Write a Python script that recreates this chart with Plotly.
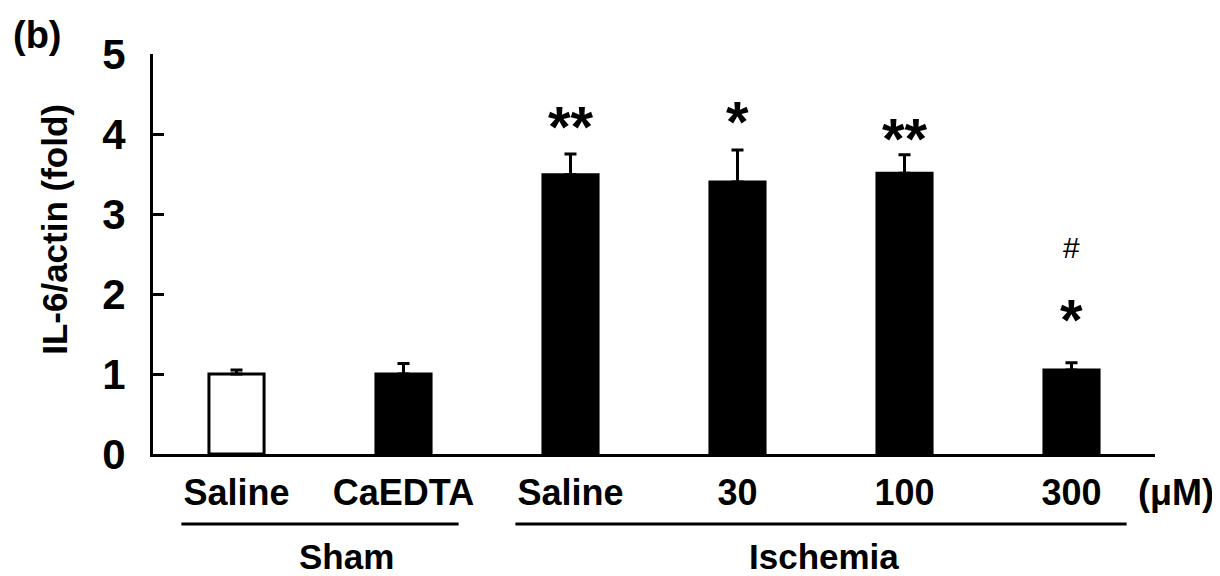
import plotly.graph_objects as go

# ---- data ----
categories = ["Saline", "CaEDTA", "Saline", "30", "100", "300"]
means = [1.00, 1.00, 3.49, 3.40, 3.51, 1.05]
sems = [0.05, 0.13, 0.26, 0.40, 0.23, 0.09]
fill_colors = ["white", "black", "black", "black", "black", "black"]
sig_marks = ["", "", "**", "*", "**", "*"]
sig_y = [None, None, 4.09, 4.16, 3.94, 1.68]
hash_marks = ["", "", "", "", "", "#"]
hash_y = [None, None, None, None, None, 2.58]
groups = ["Sham", "Ischemia"]
group_members = [[0, 1], [2, 3, 4, 5]]
y_ticks = [0, 1, 2, 3, 4, 5]
unit_label = "(\u03bcM)"
panel_label = "(b)"
y_title = "IL-6/actin (fold)"

FONT = "Liberation Sans, Arial, sans-serif"
x_pos = list(range(len(categories)))

fig = go.Figure()
fig.add_trace(go.Bar(
    x=x_pos, y=means, width=0.33,
    marker=dict(color=fill_colors, line=dict(color="black", width=3)),
    error_y=dict(type="data", array=sems, arrayminus=[0] * len(sems),
                 symmetric=False, color="black", thickness=3, width=6),
    showlegend=False, hoverinfo="skip",
))

annotations = []
for i, (m, yy) in enumerate(zip(sig_marks, sig_y)):
    if m:
        annotations.append(dict(x=i, y=yy, xref="x", yref="y", text=m, showarrow=False,
                                font=dict(family=FONT, size=58, color="black", weight="bold"),
                                xanchor="center", yanchor="middle"))
for i, (m, yy) in enumerate(zip(hash_marks, hash_y)):
    if m:
        annotations.append(dict(x=i, y=yy, xref="x", yref="y", text=m, showarrow=False,
                                font=dict(family=FONT, size=30, color="black"),
                                xanchor="center", yanchor="middle"))

# group labels and bracket lines
group_label_x = [0.66, 3.52]
shapes = []
for g, members, gx in zip(groups, group_members, group_label_x):
    shapes.append(dict(type="line", xref="x", yref="paper",
                       x0=min(members) - 0.33, x1=max(members) + 0.33,
                       y0=-0.175, y1=-0.175, line=dict(color="black", width=3)))
    annotations.append(dict(x=gx, y=-0.255, xref="x", yref="paper", text=g, showarrow=False,
                            font=dict(family=FONT, size=35, color="black", weight="bold"),
                            xanchor="center", yanchor="middle"))

annotations.append(dict(x=1.021, y=-0.095, xref="paper", yref="paper", text=unit_label,
                        showarrow=False, xanchor="center", yanchor="middle",
                        font=dict(family=FONT, size=36, color="black", weight="bold")))
annotations.append(dict(x=-0.115, y=1.048, xref="paper", yref="paper", text=panel_label,
                        showarrow=False, xanchor="center", yanchor="middle",
                        font=dict(family=FONT, size=38, color="black", weight="bold")))
# y-axis title (placed as rotated text to match its offset position)
annotations.append(dict(x=-0.099, y=0.5625, xref="paper", yref="paper", text=y_title,
                        showarrow=False, textangle=-90, xanchor="center", yanchor="middle",
                        font=dict(family=FONT, size=35, color="black", weight="bold")))

fig.update_layout(
    width=1212, height=568,
    margin=dict(l=145, r=65, t=46, b=122),
    plot_bgcolor="white", paper_bgcolor="white",
    annotations=annotations, shapes=shapes,
    xaxis=dict(range=[-0.5, 5.5], tickvals=x_pos, ticktext=categories,
               showline=True, linecolor="black", linewidth=3, ticks="",
               showgrid=False, zeroline=False, ticklabelstandoff=5,
               tickfont=dict(family=FONT, size=36, color="black", weight="bold")),
    yaxis=dict(range=[0, 5], tickvals=y_ticks, showline=True, linecolor="black",
               linewidth=3, ticks="inside", ticklen=11, tickwidth=3, tickcolor="black",
               showgrid=False, zeroline=False, ticklabelstandoff=16,
               tickfont=dict(family=FONT, size=42, color="black", weight="bold")),
)

fig.write_html("out.html")
